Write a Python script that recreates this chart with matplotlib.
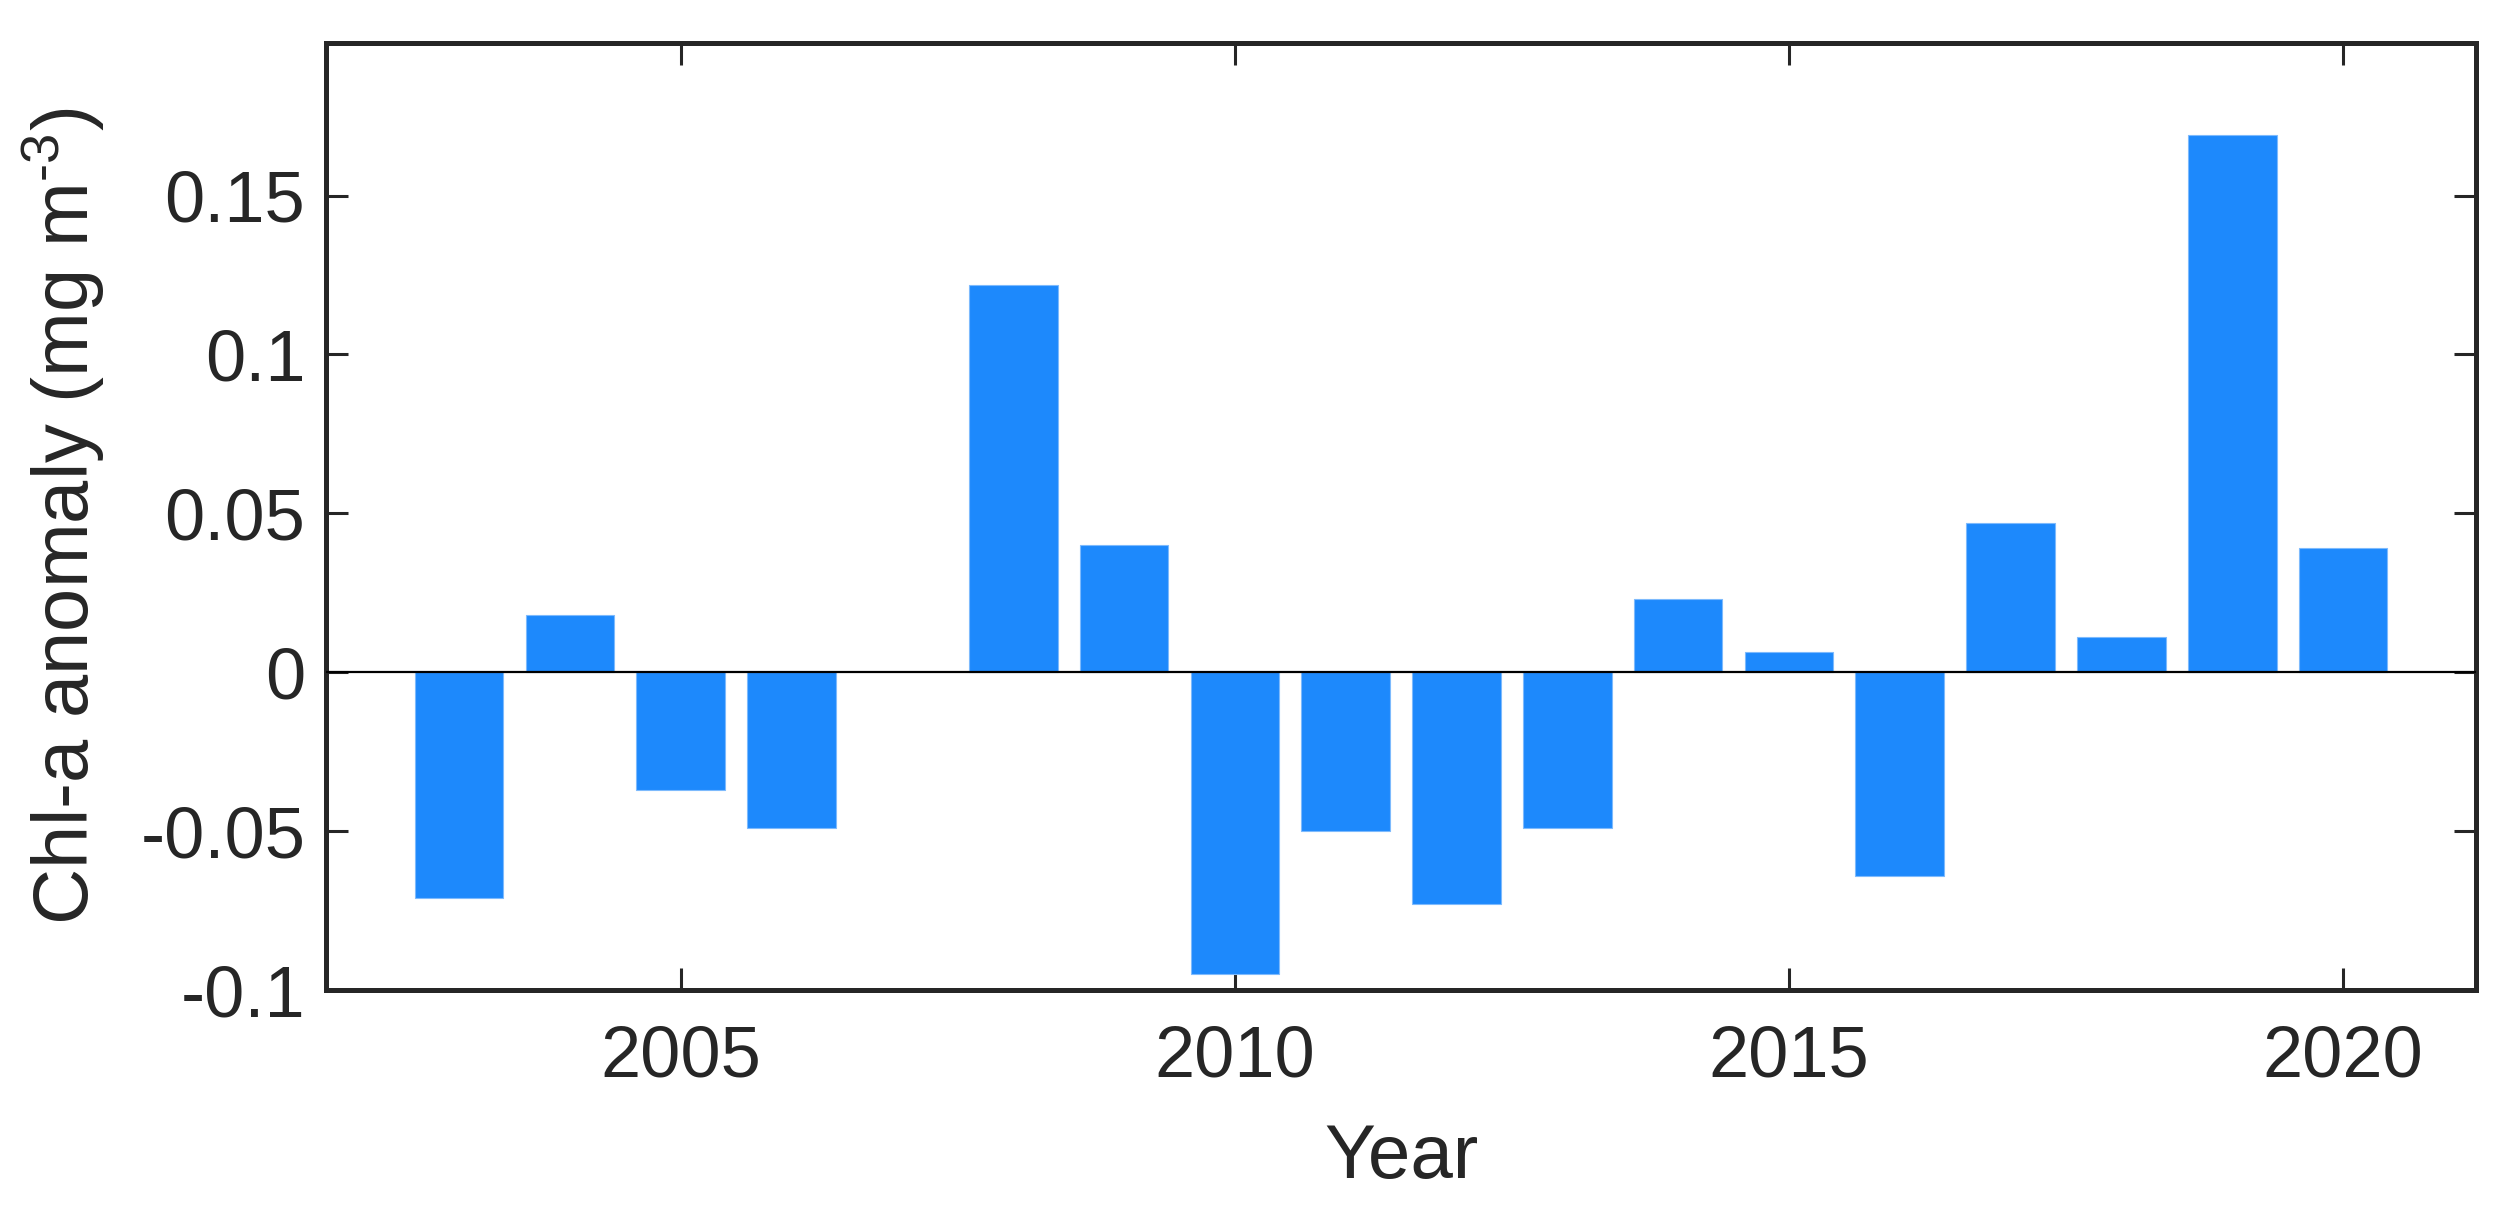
import numpy as np
import matplotlib
matplotlib.use('Agg')
import matplotlib.pyplot as plt

# anomalije klorofila po letih (2007 brez podatka)
years = [2003, 2004, 2005, 2006, 2007, 2008, 2009, 2010, 2011, 2012,
         2013, 2014, 2015, 2016, 2017, 2018, 2019, 2020]
anomaly = [-0.071, 0.018, -0.037, -0.049, np.nan, 0.122, 0.040, -0.095, -0.050, -0.073,
           -0.049, 0.023, 0.0065, -0.064, 0.047, 0.011, 0.169, 0.039]
xticks = [2005, 2010, 2015, 2020]
yticks = [-0.1, -0.05, 0, 0.05, 0.1, 0.15]
ytick_labels = ['-0.1', '-0.05', '0', '0.05', '0.1', '0.15']

plt.rcParams['font.family'] = ['Liberation Sans', 'DejaVu Sans']
plt.rcParams['mathtext.fontset'] = 'custom'
plt.rcParams['mathtext.rm'] = 'Liberation Sans'
plt.rcParams['mathtext.it'] = 'Liberation Sans'

tekst = '#262626'

fig = plt.figure(figsize=(24.97, 12.22), dpi=100)
ax = fig.add_axes([0.1306, 0.1898, 0.8610, 0.7750])

ax.bar(years, anomaly, width=0.8, color='#1d89fc', edgecolor='#7dbafd', linewidth=0.8, zorder=2)
ax.axhline(0, color='black', linewidth=1.6, zorder=3)

ax.set_xlim(2001.8, 2021.2)
ax.set_ylim(-0.1, 0.198)
ax.set_xticks(xticks)
ax.set_xticklabels([str(t) for t in xticks])
ax.set_yticks(yticks)
ax.set_yticklabels(ytick_labels)

for s in ax.spines.values():
    s.set_linewidth(3.6)
    s.set_color(tekst)

ax.tick_params(axis='both', direction='in', length=16, width=2.2, colors=tekst,
               labelsize=52, top=True, right=True)
ax.tick_params(axis='x', pad=25)
ax.tick_params(axis='y', pad=15)

ax.set_xlabel('Year', fontsize=55, color=tekst)
ax.set_ylabel('Chl-a anomaly (mg m$^{\\text{-3}}$)', fontsize=56, color=tekst)
ax.xaxis.set_label_coords(0.5, -0.14)
ax.yaxis.set_label_coords(-0.102, 0.5)

plt.savefig('out.png', dpi=100)
